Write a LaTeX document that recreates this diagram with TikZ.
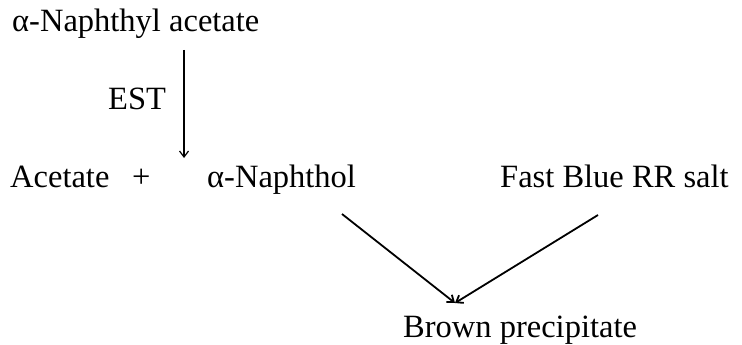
\documentclass[tikz,border=0pt]{standalone}
\usepackage{fontspec}
\setmainfont{Liberation Serif}
\usetikzlibrary{arrows.meta}
\begin{document}
\begin{tikzpicture}[x=1pt,y=-1pt,
  lbl/.style={anchor=base west,inner sep=0pt,font=\fontsize{32.5}{36}\selectfont},
  conn/.style={line width=1.8pt,-{Straight Barb[length=6pt,width=9pt]}}]
\useasboundingbox (0,0) rectangle (742,345);
\node[lbl] (nac) at (12,32) {α-Naphthyl acetate};
\node[lbl] (est) at (108,110) {EST};
\node[lbl] (ace) at (10,187) {Acetate};
\node[lbl] (plus) at (132,187) {+};
\node[lbl] (nol) at (207,187) {α-Naphthol};
\node[lbl] (fb) at (500,187) {Fast Blue RR salt};
\node[lbl] (bp) at (403,337) {Brown precipitate};
\coordinate (a1) at (184,50);
\coordinate (a2) at (184,158);
\coordinate (l1) at (342,214);
\coordinate (r1) at (598,215);
\coordinate (m) at (455,303);
\draw[conn,line width=1.2pt] (a1) -- (a2);
\draw[conn] (l1) -- (m);
\draw[conn] (r1) -- (m);
\end{tikzpicture}
\end{document}
